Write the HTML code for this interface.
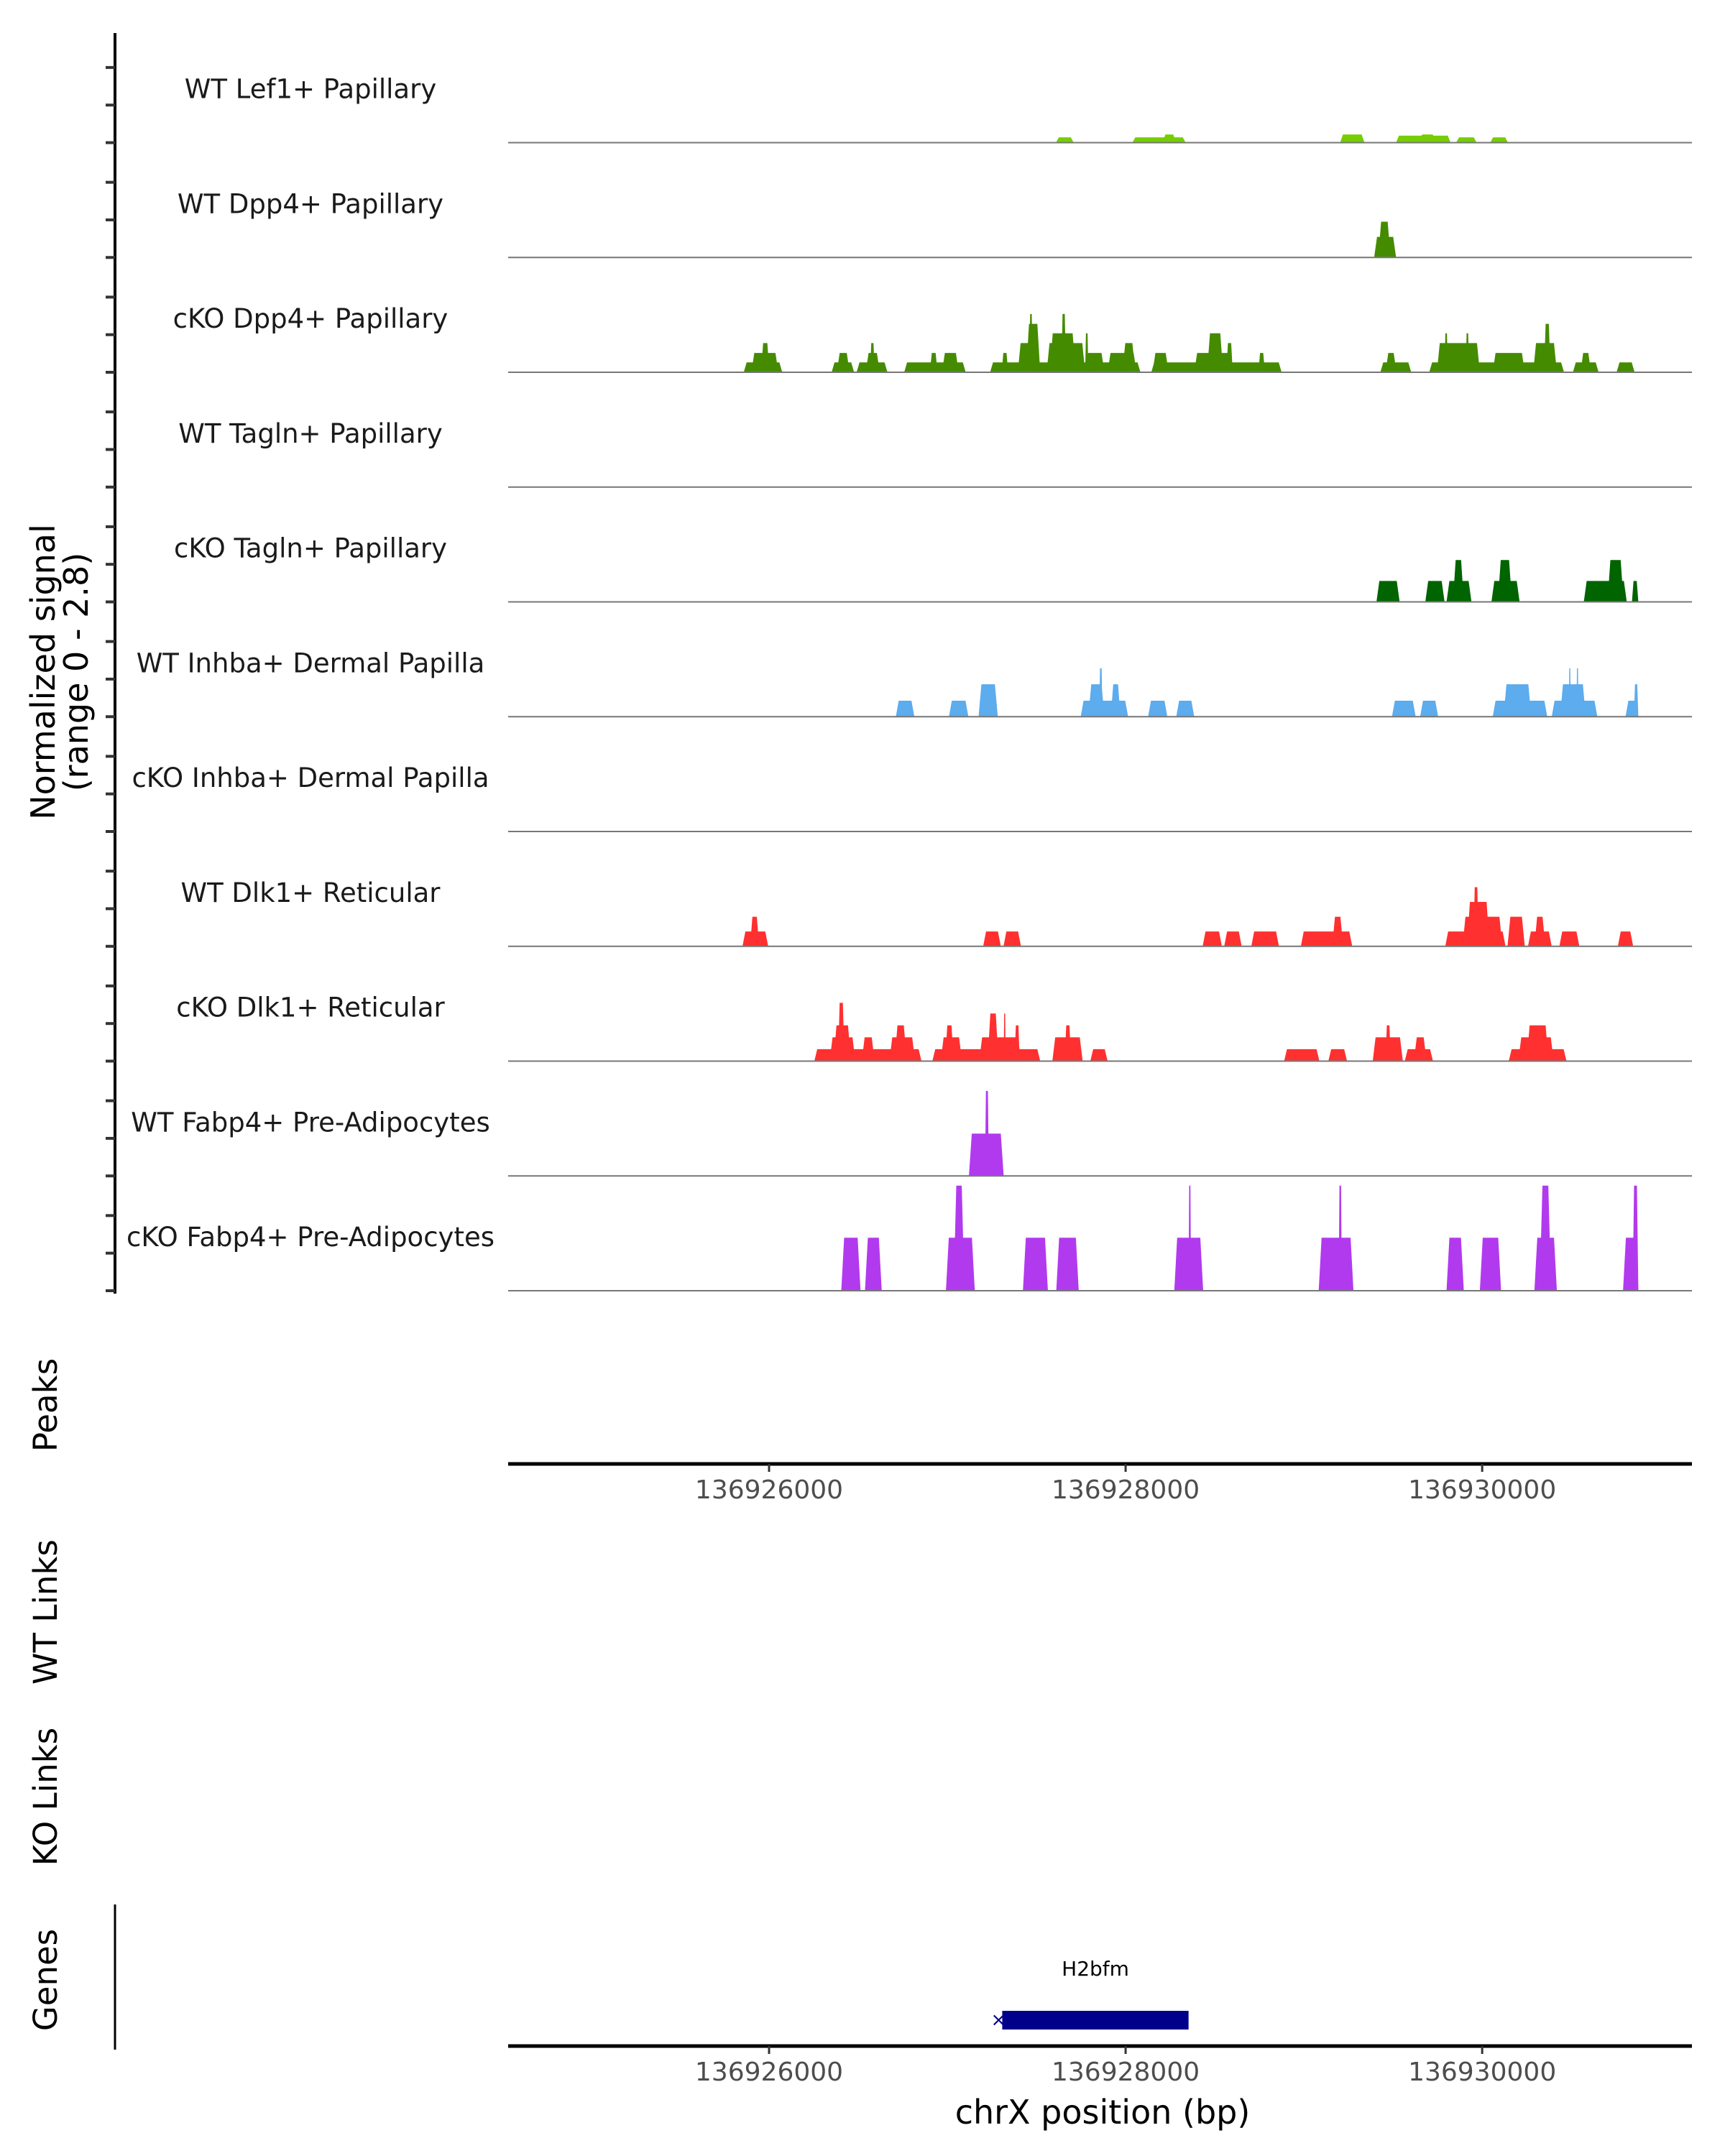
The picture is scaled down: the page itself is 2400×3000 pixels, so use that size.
<!DOCTYPE html>
<html><head><meta charset="utf-8"><style>
html,body{margin:0;padding:0;background:#fff;}
svg{display:block;font-family:"DejaVu Sans","Liberation Sans",sans-serif;}
</style></head><body>
<svg id="chart" width="2400" height="3000" viewBox="0 0 2400 3000" xmlns="http://www.w3.org/2000/svg"></svg>
<script>
const trackNames = ["WT Lef1+ Papillary","WT Dpp4+ Papillary","cKO Dpp4+ Papillary","WT Tagln+ Papillary","cKO Tagln+ Papillary","WT Inhba+ Dermal Papilla","cKO Inhba+ Dermal Papilla","WT Dlk1+ Reticular","cKO Dlk1+ Reticular","WT Fabp4+ Pre-Adipocytes","cKO Fabp4+ Pre-Adipocytes"];
const trackColors = ["#76cd00","#458b00","#458b00","#006400","#006400","#5cacee","#5cacee","#ff3030","#ff3030","#b23aee","#b23aee"];
const xTicks = [136926000,136928000,136930000];
const yRangeMax = 2.8;
const geneName = "H2bfm";
const geneStart = 136927308, geneEnd = 136928353;
// [start bp, end bp, signal]
const lef1WT = [[136927609,136927709,0.13],[136928038,136928337,0.13],[136928207,136928283,0.2],[136929203,136929340,0.2],[136929517,136929823,0.17],[136929647,136929739,0.2],[136929854,136929969,0.13],[136930045,136930145,0.13]];
const dpp4WT = [[136929394,136929517,0.5],[136929417,136929486,0.87]];
const dpp4KO = [[136925858,136926074,.24],[136925901,136926052,.47],[136925955,136926002,.71],[136926351,136926477,.24],[136926380,136926452,.47],[136926491,136926664,.24],[136926542,136926621,.47],[136926567,136926592,.71],[136926758,136927103,.24],[136926902,136926945,.47],[136926970,136927064,.47],[136927240,136928083,.24],[136927305,136927341,.47],[136927395,136927521,.71],[136927442,136927521,1.18],[136927460,136927478,1.42],[136927557,136927773,.71],[136927575,136927719,.95],[136927640,136927665,1.42],[136927773,136927881,.47],[136927773,136927791,.95],[136927899,136928061,.47],[136927982,136928054,.71],[136928144,136928875,.24],[136928151,136928241,.47],[136928385,136928601,.47],[136928457,136928547,.95],[136928565,136928601,.71],[136928745,136928781,.47],[136929429,136929602,.24],[136929458,136929519,.47],[136929703,136930459,.24],[136929746,136929987,.71],[136929789,136929807,.95],[136929908,136929926,.95],[136930059,136930239,.47],[136930286,136930419,.71],[136930347,136930383,1.18],[136930509,136930653,.24],[136930552,136930610,.47],[136930754,136930855,.24]];
const taglnWT = [];
const taglnKO = [[136929407,136929537,.51],[136929681,136929789,.51],[136929800,136929940,.51],[136929836,136929897,1.02],[136930052,136930210,.51],[136930088,136930167,1.02],[136930570,136930811,.51],[136930703,136930793,1.02],[136930840,136930876,.51]];
const inhbaWT = [[136926711,136926815,.39],[136927009,136927118,.39],[136927175,136927283,.79],[136927748,136928014,.39],[136927791,136927881,.79],[136927852,136927870,1.18],[136927917,136927971,.79],[136928126,136928234,.39],[136928284,136928385,.39],[136929494,136929627,.39],[136929652,136929753,.39],[136930059,136930365,.39],[136930120,136930275,.79],[136930390,136930646,.39],[136930437,136930581,.79],[136930486,136930497,1.18],[136930529,136930540,1.18],[136930804,136930876,.39],[136930851,136930876,.79]];
const inhbaKO = [];
const dlk1WT = [[136925851,136925995,.36],[136925894,136925944,.72],[136927201,136927300,.36],[136927315,136927413,.36],[136928432,136928540,.36],[136928553,136928651,.36],[136928705,136928860,.36],[136928983,136929271,.36],[136929159,136929220,.72],[136929793,136930131,.36],[136929890,136930113,.72],[136929915,136930041,1.08],[136929951,136929980,1.44],[136930142,136930239,.72],[136930257,136930390,.36],[136930293,136930354,.72],[136930433,136930545,.36],[136930761,136930847,.36]];
const dlk1KO = [[136926254,136926855,.29],[136926340,136926484,.58],[136926362,136926459,.87],[136926387,136926423,1.42],[136926520,136926592,.58],[136926675,136926819,.58],[136926704,136926772,.87],[136926916,136927521,.29],[136926963,136927082,.58],[136926988,136927035,.87],[136927179,136927413,.58],[136927226,136927287,1.16],[136927316,136927327,1.16],[136927377,136927406,.87],[136927589,136927759,.58],[136927658,136927694,.87],[136927802,136927899,.29],[136928889,136929087,.29],[136929137,136929242,.29],[136929386,136929555,.58],[136929458,136929487,.87],[136929566,136929724,.29],[136929617,136929688,.58],[136930149,136930473,.29],[136930203,136930401,.58],[136930250,136930372,.87]];
const fabp4WT = [[136927121,136927316,1.03],[136927211,136927233,2.07]];
const fabp4KO = [[136926405,136926513,1.29],[136926538,136926632,1.29],[136926992,136927154,1.29],[136927035,136927096,2.56],[136927424,136927564,1.29],[136927611,136927737,1.29],[136928273,136928435,1.29],[136928353,136928367,2.56],[136929083,136929278,1.29],[136929195,136929213,2.56],[136929800,136929897,1.29],[136929987,136930106,1.29],[136930293,136930419,1.29],[136930322,136930387,2.56],[136930790,136930876,1.29],[136930844,136930876,2.56]];
const trackData = [lef1WT,dpp4WT,dpp4KO,taglnWT,taglnKO,inhbaWT,inhbaKO,dlk1WT,dlk1KO,fabp4WT,fabp4KO];

const svg = document.getElementById('chart');
const NS = 'http://www.w3.org/2000/svg';
const PL = 707, PR = 2354;
function xScale(bp){ return 1070 + (bp - 136926000) * 0.24804; }
const base0 = 198.5, step = 159.75;
function mk(tag, attrs){ const e = document.createElementNS(NS, tag); for (const k in attrs) e.setAttribute(k, attrs[k]); svg.appendChild(e); return e; }

let e = mk('line',{x1:160,y1:46,x2:160,y2:1800,stroke:'#000','stroke-width':4});


for (let i=0;i<11;i++){
  const b = base0 + step*i;
  for (let k=0;k<3;k++){
    const y = b - k*52.3;
    e = mk('line',{x1:147,y1:y,x2:160,y2:y,stroke:'#333','stroke-width':4});
    
    
  }
}
e = mk('text',{x:0,y:0,'font-size':46,fill:'#000','text-anchor':'middle',transform:'translate(76,935) rotate(-90)'});


e.innerHTML = '<tspan x="0" dy="0">Normalized signal</tspan><tspan x="0" dy="46">(range 0 - 2.8)</tspan>';

trackData.forEach((blocks,i)=>{
  const b = base0 + step*i;
  const t = mk('text',{x:432,y:b-62,'font-size':37,fill:'#1a1a1a','text-anchor':'middle'});
  t.textContent = trackNames[i];
  
  
  blocks.forEach(d=>{
    const x1 = xScale(d[0]), x2 = xScale(d[1]);
    const yt = b - d[2] / yRangeMax * 160;
    const r = Math.min(4, (x2-x1)/4);
    const p = mk('polygon',{points:`${x1},${b} ${x1+r},${yt} ${x2-r},${yt} ${x2},${b}`,fill:trackColors[i]});
    
    
  });
  const l = mk('line',{x1:PL,y1:b,x2:PR,y2:b,stroke:'#777','stroke-width':2});
  
  
});

function rotLabel(txt, y, name){
  const t = mk('text',{x:0,y:0,'font-size':45,fill:'#000','text-anchor':'middle',transform:`translate(79,${y}) rotate(-90)`});
  t.textContent = txt;
  
  
}
rotLabel('Peaks',1955,'peaks-track-label');
rotLabel('WT Links',2243,'wt-links-track-label');
rotLabel('KO Links',2500,'ko-links-track-label');
rotLabel('Genes',2755,'genes-track-label');

function xAxis(y, name){
  let a = mk('line',{x1:PL,y1:y,x2:PR,y2:y,stroke:'#000','stroke-width':5});
  
  
  xTicks.forEach(v=>{
    const x = xScale(v);
    let tk = mk('line',{x1:x,y1:y,x2:x,y2:y+11,stroke:'#333','stroke-width':3});
    
    
    let tl = mk('text',{x:x,y:y+48,'font-size':36,fill:'#4d4d4d','text-anchor':'middle'});
    tl.textContent = String(v);
    
    
  });
}
xAxis(2037,'peaks-x-axis');
xAxis(2847,'genes-x-axis');

e = mk('line',{x1:160,y1:2650,x2:160,y2:2852,stroke:'#000','stroke-width':3});


const g1 = xScale(geneStart), g2 = xScale(geneEnd);
e = mk('rect',{x:g1,y:2798,width:g2-g1,height:26,fill:'#00008b'});


e = mk('text',{x:g1-5,y:2819,'font-size':26,fill:'#00008b','text-anchor':'middle'});
e.textContent = '×';


e = mk('text',{x:(g1+g2)/2,y:2749,'font-size':28,fill:'#000','text-anchor':'middle'});
e.textContent = geneName;


e = mk('text',{x:1534,y:2955,'font-size':46,fill:'#000','text-anchor':'middle'});
e.textContent = 'chrX position (bp)';


</script>
</body></html>
